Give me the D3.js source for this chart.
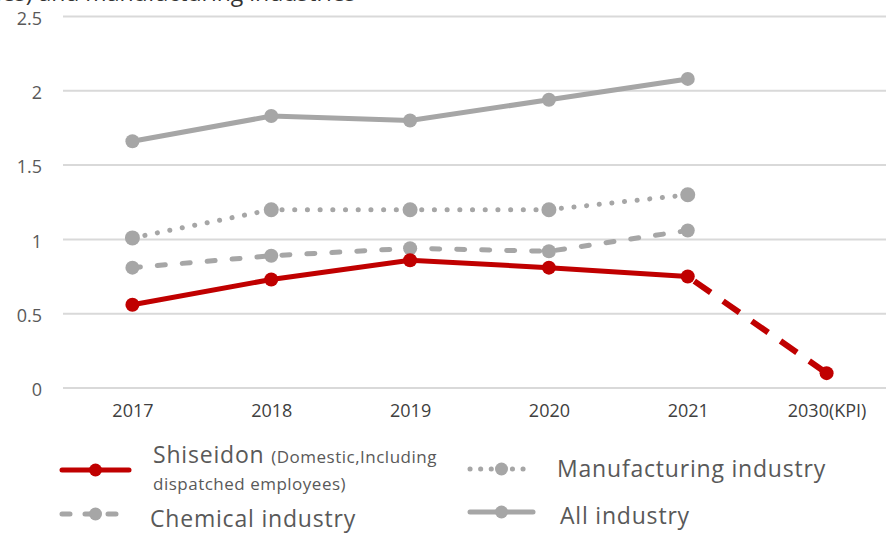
<!DOCTYPE html>
<html>
<head>
<meta charset="utf-8" />
<title>Chart</title>
<script src="https://d3js.org/d3.v7.min.js"></script>
<style>
  body { margin: 0; background: #fff; }
  text { font-family: "Open Sans", "Noto Sans", sans-serif; }
</style>
</head>
<body>
<svg id="chart" width="886" height="533"></svg>
<script>

var years = ["2017", "2018", "2019", "2020", "2021", "2030(KPI)"];
var yTicks = [0, 0.5, 1, 1.5, 2, 2.5];

var shiseido = [0.56, 0.73, 0.86, 0.81, 0.75];
var shiseidoKpi = 0.10;
var chemical = [0.81, 0.89, 0.94, 0.92, 1.06];
var manufacturing = [1.01, 1.20, 1.20, 1.20, 1.30];
var allIndustry = [1.66, 1.83, 1.80, 1.94, 2.08];

var red = "#c00000", grey = "#a6a6a6", textGrey = "#595959";
var font = "'Open Sans', 'Noto Sans', sans-serif";

var svg = d3.select("#chart");

var x = d3.scalePoint().domain(years).range([63, 896]).padding(0.5);
var y = d3.scaleLinear().domain([0, 2.5]).range([388, 16.5]);

// cut-off title from above
svg.append("text")
  .attr("x", -4).attr("y", 1)
  .attr("font-size", 23)
  .attr("fill", "#333")
  .text("ies) and manufacturing industries");

// grid
svg.append("g").selectAll("line")
  .data(yTicks)
  .enter().append("line")
  .attr("x1", 63).attr("x2", 886)
  .attr("y1", function(d) { return y(d); })
  .attr("y2", function(d) { return y(d); })
  .attr("stroke", "#d9d9d9")
  .attr("stroke-width", 2);

// y axis labels
var yAxis = svg.append("g")
  .attr("transform", "translate(42,2)")
  .call(d3.axisLeft(y).tickValues(yTicks).tickSize(0).tickPadding(0)
    .tickFormat(function(d) { return String(d); }));
yAxis.select(".domain").remove();
yAxis.selectAll("text").attr("font-size", 18).attr("fill", textGrey)
  .attr("font-family", font);

// x axis labels
var xAxis = svg.append("g")
  .attr("transform", "translate(0,404)")
  .call(d3.axisBottom(x).tickSize(0).tickPadding(0));
xAxis.select(".domain").remove();
xAxis.selectAll("text").attr("font-size", 18).attr("fill", "#404040")
  .attr("font-family", font);

var line = d3.line()
  .x(function(d) { return x(d.year); })
  .y(function(d) { return y(d.value); });

function toPoints(values) {
  return values.map(function(v, i) { return { year: years[i], value: v }; });
}

var series = [
  { values: allIndustry, color: grey, width: 5, dash: null, r: 7 },
  { values: manufacturing, color: grey, width: 5, dash: "0.1,12.6", r: 7.5 },
  { values: chemical, color: grey, width: 5, dash: "8,17", r: 7 },
  { values: shiseido, color: red, width: 5, dash: null, r: 7 }
];

// shiseido KPI dashed segment
svg.append("path")
  .attr("d", line([{ year: years[4], value: shiseido[4] }, { year: years[5], value: shiseidoKpi }]))
  .attr("fill", "none")
  .attr("stroke", red)
  .attr("stroke-width", 6)
  .attr("stroke-dasharray", "20,15")
  .attr("stroke-dashoffset", -8);

series.forEach(function(s) {
  var pts = toPoints(s.values);
  svg.append("path")
    .attr("d", line(pts))
    .attr("fill", "none")
    .attr("stroke", s.color)
    .attr("stroke-width", s.width)
    .attr("stroke-linecap", "round")
    .attr("stroke-dasharray", s.dash);
  svg.append("g").selectAll("circle")
    .data(pts)
    .enter().append("circle")
    .attr("cx", function(d) { return x(d.year); })
    .attr("cy", function(d) { return y(d.value); })
    .attr("r", s.r)
    .attr("fill", s.color);
});

svg.append("circle")
  .attr("cx", x(years[5]))
  .attr("cy", y(shiseidoKpi))
  .attr("r", 7)
  .attr("fill", red);

// legend
function legendSymbol(x0, x1, yy, color, dash) {
  var g = svg.append("g");
  g.append("line")
    .attr("x1", x0).attr("x2", x1).attr("y1", yy).attr("y2", yy)
    .attr("stroke", color).attr("stroke-width", 5)
    .attr("stroke-linecap", "round")
    .attr("stroke-dasharray", dash);
  g.append("circle")
    .attr("cx", (x0 + x1) / 2).attr("cy", yy).attr("r", 6.5)
    .attr("fill", color);
}

legendSymbol(62, 129, 470, red, null);
legendSymbol(62, 129, 514, grey, "8,15");
legendSymbol(470, 533, 469, grey, "0.1,10.5");
legendSymbol(470, 533, 512, grey, null);

function legendText(x0, y0, size, spacing, label) {
  return svg.append("text").attr("x", x0).attr("y", y0)
    .attr("font-size", size).attr("letter-spacing", spacing)
    .attr("fill", textGrey).text(label);
}

var sh = svg.append("text").attr("x", 153).attr("y", 463).attr("fill", textGrey);
sh.append("tspan").attr("font-size", 23).attr("letter-spacing", 0.8).text("Shiseidon ");
sh.append("tspan").attr("font-size", 17).attr("letter-spacing", 0.5).text("(Domestic,Including");
legendText(153, 490, 17, 0.5, "dispatched employees)");
legendText(150, 527, 23, 0.8, "Chemical industry");
legendText(557, 477, 23, 0.8, "Manufacturing industry");
legendText(560, 524, 23, 0.8, "All industry");

</script>
</body>
</html>
